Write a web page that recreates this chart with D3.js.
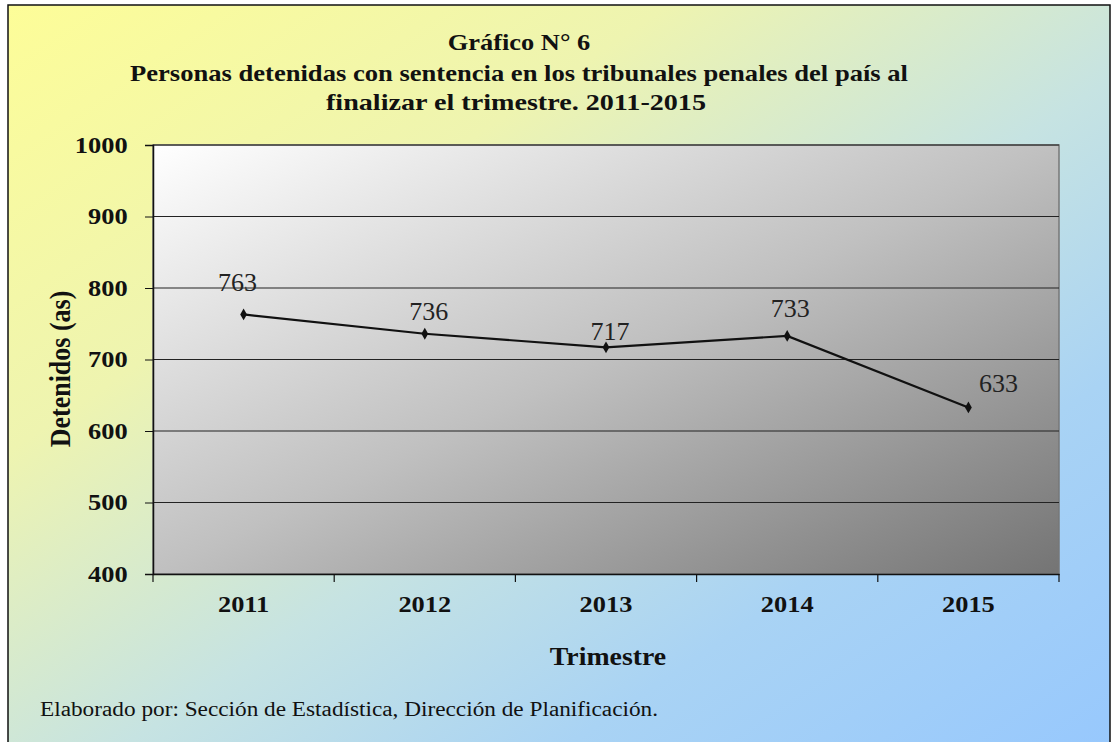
<!DOCTYPE html>
<html>
<head>
<meta charset="utf-8">
<script src="https://cdn.jsdelivr.net/npm/d3@7"></script>
<style>
    body { margin: 0; background: #fff; }
    svg text { font-family: "Liberation Serif", "Times New Roman", serif !important; fill: #111; }
</style>
</head>
<body>
<div id="chart"></div>
<script>
// Chart data
var years = ["2011", "2012", "2013", "2014", "2015"];
var detenidos = [763, 736, 717, 733, 633];
var yTicks = [400, 500, 600, 700, 800, 900, 1000];

// hand placed label nudges [dx, dy] relative to the point (as in the original)
var labelNudge = [[-6, -23], [4, -14], [4, -7], [3, -19], [30, -15]];

var svgWidth = 1112;
var svgHeight = 742;

var margin = { top: 145, right: 53, bottom: 168, left: 153 };
var width = svgWidth - margin.left - margin.right;
var height = svgHeight - margin.top - margin.bottom;

// the original picture is a bit wider than tall, so the text is stretched
var stretch = 1.15;

var svg = d3.select("#chart")
    .append("svg")
    .attr("width", svgWidth)
    .attr("height", svgHeight);

var defs = svg.append("defs");

// background: yellow top-left to light blue bottom-right
var bg = defs.append("linearGradient")
    .attr("id", "bgGrad")
    .attr("x1", "0%").attr("y1", "0%")
    .attr("x2", "100%").attr("y2", "100%");
bg.append("stop").attr("offset", "0%").attr("stop-color", "#fdfd98");
bg.append("stop").attr("offset", "30%").attr("stop-color", "#eef4b0");
bg.append("stop").attr("offset", "55%").attr("stop-color", "#c6e3e2");
bg.append("stop").attr("offset", "75%").attr("stop-color", "#a9d3f4");
bg.append("stop").attr("offset", "100%").attr("stop-color", "#97c8fd");

// plot area: white to gray
var pg = defs.append("linearGradient")
    .attr("id", "plotGrad")
    .attr("x1", "0%").attr("y1", "0%")
    .attr("x2", "100%").attr("y2", "100%");
pg.append("stop").attr("offset", "0%").attr("stop-color", "#ffffff");
pg.append("stop").attr("offset", "50%").attr("stop-color", "#c0c0c0");
pg.append("stop").attr("offset", "100%").attr("stop-color", "#747474");

svg.append("rect")
    .attr("x", 8).attr("y", 5)
    .attr("width", 1102).attr("height", 745)
    .attr("fill", "url(#bgGrad)")
    .attr("stroke", "#111")
    .attr("stroke-width", 1.5);

var chartGroup = svg.append("g")
    .attr("transform", `translate(${margin.left}, ${margin.top})`);

var xScale = d3.scaleBand()
    .domain(years)
    .range([0, width]);

var yScale = d3.scaleLinear()
    .domain([400, 1000])
    .range([height, 0]);

chartGroup.append("rect")
    .attr("width", width)
    .attr("height", height)
    .attr("fill", "url(#plotGrad)")
    .attr("stroke", "#777")
    .attr("stroke-width", 1.5);

// gridlines
chartGroup.selectAll(".grid")
    .data(yTicks.slice(1))
    .enter()
    .append("line")
    .attr("x1", 0)
    .attr("x2", width)
    .attr("y1", d => yScale(d))
    .attr("y2", d => yScale(d))
    .attr("stroke", "#222")
    .attr("stroke-width", 1.2);

// y axis
var leftAxis = d3.axisLeft(yScale)
    .tickValues(yTicks)
    .tickFormat(d3.format("d"))
    .tickSize(8)
    .tickPadding(14);

var yAxis = chartGroup.append("g").call(leftAxis);
yAxis.select(".domain").attr("stroke", "#111").attr("stroke-width", 1.5);
yAxis.selectAll(".tick line").attr("stroke", "#111");
yAxis.selectAll("text")
    .attr("font-size", "23px")
    .attr("font-weight", "bold")
    .attr("transform", `scale(${stretch},1)`);

// x axis: ticks at band boundaries
var bottomAxis = d3.axisBottom(xScale).tickSize(0).tickPadding(21);
var xAxis = chartGroup.append("g")
    .attr("transform", `translate(0, ${height})`)
    .call(bottomAxis);
xAxis.select(".domain").attr("stroke", "#111").attr("stroke-width", 1.5);
xAxis.selectAll("text")
    .attr("font-size", "24px")
    .attr("font-weight", "bold")
    .attr("transform", "scale(1.1,1)");

var bounds = years.map(d => xScale(d)).concat([width]);
chartGroup.selectAll(".xtick")
    .data(bounds)
    .enter()
    .append("line")
    .attr("x1", d => d)
    .attr("x2", d => d)
    .attr("y1", height)
    .attr("y2", height + 8)
    .attr("stroke", "#111")
    .attr("stroke-width", 1.2);

// line
var line = d3.line()
    .x((d, i) => xScale(years[i]) + xScale.bandwidth() / 2)
    .y(d => yScale(d));

chartGroup.append("path")
    .datum(detenidos)
    .attr("d", line)
    .attr("fill", "none")
    .attr("stroke", "#111")
    .attr("stroke-width", 2.2);

chartGroup.selectAll(".pt")
    .data(detenidos)
    .enter()
    .append("path")
    .attr("d", d3.symbol().type(d3.symbolDiamond).size(40))
    .attr("transform", (d, i) => `translate(${xScale(years[i]) + xScale.bandwidth() / 2}, ${yScale(d)})`)
    .attr("fill", "#111");

// value labels
chartGroup.selectAll(".lbl")
    .data(detenidos)
    .enter()
    .append("text")
    .attr("transform", (d, i) => `translate(${xScale(years[i]) + xScale.bandwidth() / 2 + labelNudge[i][0]}, ${yScale(d) + labelNudge[i][1]}) scale(1.04,1)`)
    .attr("text-anchor", "middle")
    .attr("font-size", "25px")
    .style("fill", "#222")
    .text(d => d);

// titles
function addText(x, y, txt, size, weight, sx) {
    return svg.append("text")
        .attr("transform", `translate(${x}, ${y}) scale(${sx},1)`)
        .attr("font-size", size)
        .attr("font-weight", weight)
        .text(txt);
}

addText(519, 50, "Gráfico N° 6", "24px", "bold", 1.1)
    .attr("text-anchor", "middle");

svg.append("text")
    .attr("x", 130).attr("y", 81)
    .attr("font-size", "24px")
    .attr("font-weight", "bold")
    .attr("textLength", 778)
    .attr("lengthAdjust", "spacingAndGlyphs")
    .text("Personas detenidas con sentencia en los tribunales penales del país al");

svg.append("text")
    .attr("x", 326).attr("y", 110)
    .attr("font-size", "24px")
    .attr("font-weight", "bold")
    .attr("textLength", 380)
    .attr("lengthAdjust", "spacingAndGlyphs")
    .text("finalizar el trimestre. 2011-2015");

// axis titles
svg.append("text")
    .attr("transform", `translate(70, 369) scale(${stretch},1) rotate(-90)`)
    .attr("text-anchor", "middle")
    .attr("font-size", "26px")
    .attr("font-weight", "bold")
    .text("Detenidos (as)");

addText(608, 665, "Trimestre", "26px", "bold", 1.07)
    .attr("text-anchor", "middle");

svg.append("text")
    .attr("x", 40).attr("y", 716)
    .attr("font-size", "20px")
    .attr("textLength", 618)
    .attr("lengthAdjust", "spacingAndGlyphs")
    .text("Elaborado por: Sección de Estadística, Dirección de Planificación.");
</script>
</body>
</html>
